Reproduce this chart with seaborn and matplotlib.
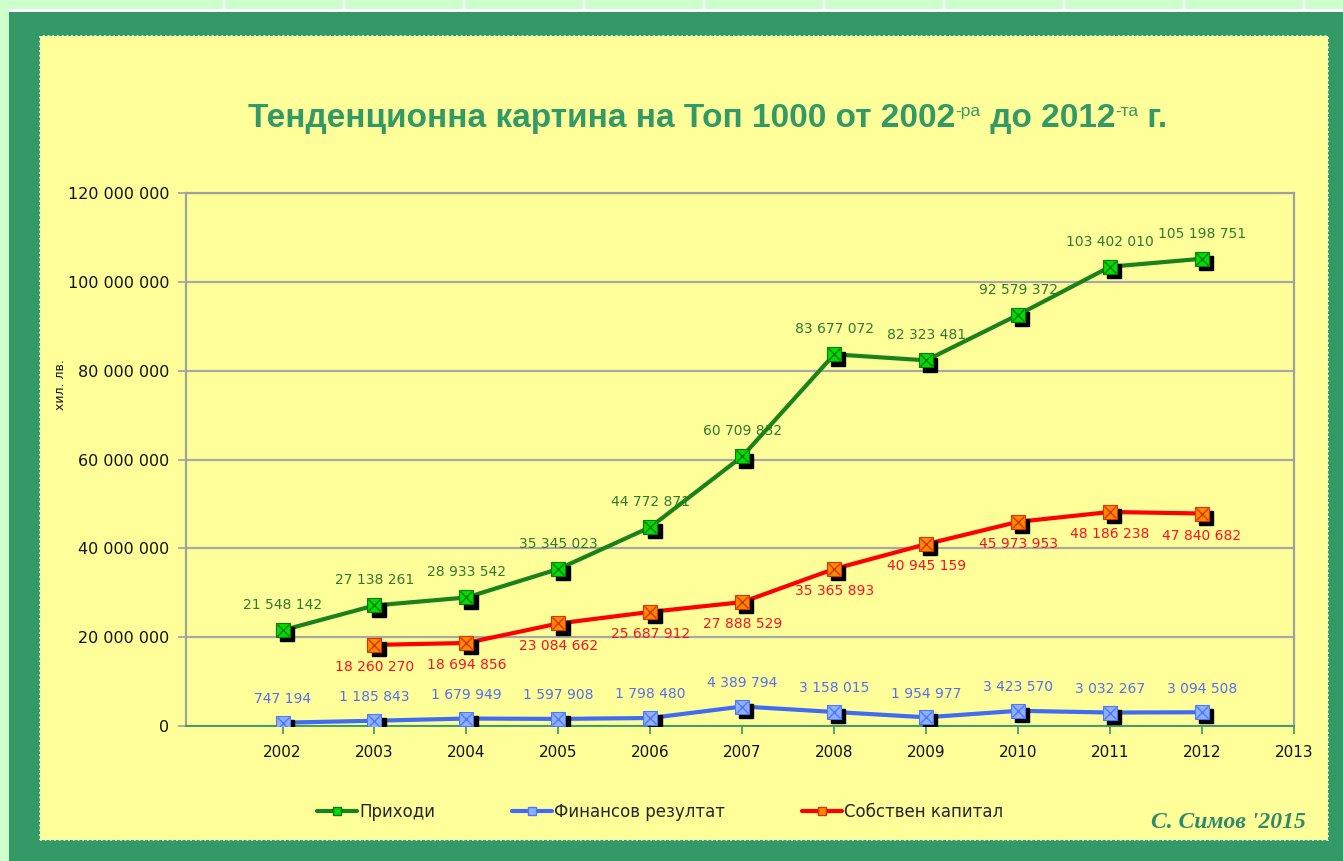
import numpy as np
import pandas as pd
import seaborn as sns
import matplotlib
matplotlib.use("Agg")
import matplotlib.pyplot as plt
import matplotlib.transforms as mtransforms
from matplotlib.patches import Rectangle
from matplotlib.lines import Line2D

# ---------------- data ----------------
years = [2002, 2003, 2004, 2005, 2006, 2007, 2008, 2009, 2010, 2011, 2012]
revenue = [21548142, 27138261, 28933542, 35345023, 44772871, 60709832,
           83677072, 82323481, 92579372, 103402010, 105198751]
fin_result = [747194, 1185843, 1679949, 1597908, 1798480, 4389794,
              3158015, 1954977, 3423570, 3032267, 3094508]
equity_years = [2003, 2004, 2005, 2006, 2007, 2008, 2009, 2010, 2011, 2012]
equity = [18260270, 18694856, 23084662, 25687912, 27888529, 35365893,
          40945159, 45973953, 48186238, 47840682]
series_names = ["Приходи", "Финансов резултат", "Собствен капитал"]
x_ticks = list(range(2002, 2014))
y_ticks = [0, 20000000, 40000000, 60000000, 80000000, 100000000, 120000000]
title_parts = ["Тенденционна картина на Топ 1000 от 2002", "-ра", " до 2012", "-та", " г."]
y_label = "хил. лв."
signature = "С. Симов '2015"


def fmt(v):
    return f"{int(v):,}".replace(",", " ")


df = pd.concat([
    pd.DataFrame({"year": years, "value": revenue, "series": series_names[0]}),
    pd.DataFrame({"year": years, "value": fin_result, "series": series_names[1]}),
    pd.DataFrame({"year": equity_years, "value": equity, "series": series_names[2]}),
], ignore_index=True)

# styles
line_col = {series_names[0]: "#1A821A", series_names[1]: "#3F6CF2", series_names[2]: "#FF0000"}
fill_col = {series_names[0]: "#00DD00", series_names[1]: "#8FB0FF", series_names[2]: "#FF8C00"}
x_col = {series_names[0]: "#0A7A0A", series_names[1]: "#4A78FF", series_names[2]: "#E03000"}
lab_col = {series_names[0]: "#2E7A30", series_names[1]: "#5470EE", series_names[2]: "#FF1020"}
lab_off = {series_names[0]: 18, series_names[1]: 17, series_names[2]: -16}

sns.set_theme(style="white")
plt.rcParams["font.family"] = ["DejaVu Sans"]

W, H = 1343, 861
fig = plt.figure(figsize=(W / 100, H / 100), dpi=100)
fig.patch.set_facecolor("#CCFFCC")


def frect(x0, y0, x1, y1, **kw):
    r = Rectangle((x0 / W, 1 - y1 / H), (x1 - x0) / W, (y1 - y0) / H,
                  transform=fig.transFigure, zorder=-10, **kw)
    fig.patches.append(r)
    return r


for k in range(10):
    xv = 223 + 120 * k
    frect(xv, 0, xv + 2, 9, facecolor="white", edgecolor="none")
frect(9, 9, W, 12, facecolor="white", edgecolor="none")
frect(9, 12, W, H, facecolor="#339966", edgecolor="none")
frect(40, 36, 1328, 840, facecolor="#FFFF99", edgecolor="#E8F4E0",
      linewidth=1.3, linestyle=(0, (1, 1.6)))

ax = fig.add_axes([186 / W, 1 - 726 / H, (1294 - 186) / W, (726 - 193) / H])
ax.set_facecolor("none")
ax.set_zorder(2)

sns.lineplot(data=df, x="year", y="value", hue="series", palette=line_col,
             linewidth=3, legend=False, ax=ax, sort=True, zorder=3)

shadow = ax.transData + mtransforms.ScaledTranslation(3 / 72, -3 / 72, fig.dpi_scale_trans)
for name, g in df.groupby("series", sort=False):
    ax.plot(g["year"], g["value"], ls="none", marker="s", ms=10, color="black",
            mec="black", transform=shadow, zorder=4)
    ax.plot(g["year"], g["value"], ls="none", marker="s", ms=10,
            mfc=fill_col[name], mec=x_col[name], mew=0.8, zorder=5)
    ax.plot(g["year"], g["value"], ls="none", marker="x", ms=8,
            mec=x_col[name], mew=1.0, zorder=6)
    for xv, yv in zip(g["year"], g["value"]):
        ax.annotate(fmt(yv), (xv, yv), xytext=(0, lab_off[name]),
                    textcoords="offset points", ha="center", va="center",
                    fontsize=10, color=lab_col[name], zorder=7)

ax.set_xlim(2000.95, 2013)
ax.set_ylim(0, 120000000)
ax.set_xticks(x_ticks)
ax.set_xticklabels([str(t) for t in x_ticks])
ax.set_yticks(y_ticks)
ax.set_yticklabels([fmt(t) for t in y_ticks])
ax.set_xlabel("")
ax.set_ylabel("")
ax.grid(axis="y", color="#A8A8A8", linewidth=1.6)
ax.grid(axis="x", visible=False)
ax.set_axisbelow(True)
for s in ["left", "top", "right"]:
    ax.spines[s].set_color("#A0A0A0")
    ax.spines[s].set_linewidth(1.6)
    ax.spines[s].set_visible(True)
ax.spines["bottom"].set_color("#339966")
ax.spines["bottom"].set_linewidth(1.3)
ax.tick_params(axis="x", direction="out", length=6, width=1.2, color="#339966",
               labelsize=11, labelcolor="#111111", pad=8, bottom=True)
ax.tick_params(axis="y", direction="out", length=6, width=1.2, color="#A0A0A0",
               labelsize=11.5, labelcolor="#111111", pad=6, left=True)

fig.text(60 / W, 1 - 385 / H, y_label, rotation=90, ha="center", va="center",
         fontsize=9, color="#1A1A1A")

# legend
handles = [Line2D([], [], color=line_col[n], lw=3, marker="s", ms=6,
                  mfc=fill_col[n], mec=x_col[n]) for n in series_names]
fig.legend(handles, series_names, loc="center", bbox_to_anchor=(660 / W, 1 - 812 / H),
           ncol=3, frameon=False, fontsize=12, handlelength=2.4, handletextpad=0.15,
           columnspacing=4.6)

fig.text(1306 / W, 1 - 822 / H, signature, ha="right", va="center",
         family=["Liberation Serif"], style="italic", fontweight="bold",
         fontsize=17, color="#2E8B6B")

# title with superscripts
renderer = fig.canvas.get_renderer()
big, small = 24, 12.5
title_color = "#339966"
objs = []
for i, part in enumerate(title_parts):
    sup = (i % 2 == 1)
    t = fig.text(0, 0, part, family=["Liberation Sans"],
                 fontsize=small if sup else big,
                 fontweight="normal" if sup else "bold",
                 color=title_color, ha="left", va="baseline")
    objs.append((t, sup))
widths = [t.get_window_extent(renderer).width for t, _ in objs]
total = sum(widths)
x = 708 - total / 2
base = 127
for (t, sup), w in zip(objs, widths):
    yb = base - 11 if sup else base
    t.set_position((x / W, 1 - yb / H))
    x += w

fig.savefig("out.png", dpi=100, facecolor=fig.get_facecolor())
